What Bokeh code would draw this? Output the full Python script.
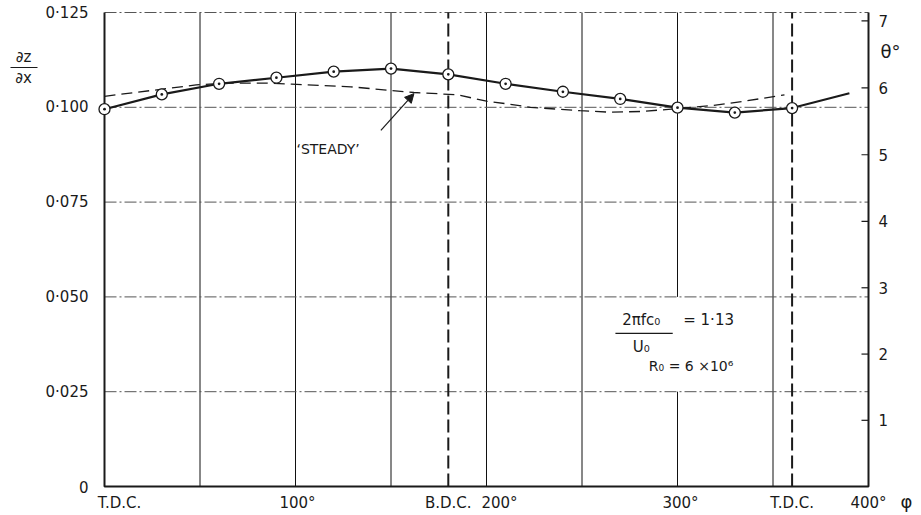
import numpy as np
from bokeh.plotting import figure
from bokeh.models import Range1d, Arrow, NormalHead
from bokeh.core.properties import value
from bokeh.embed import file_html
from bokeh.resources import INLINE

# ---------------- data ----------------
phi_points = [0, 30, 60, 90, 120, 150, 180, 210, 240, 270, 300, 330, 360]
slope_points = [0.0995, 0.1034, 0.1062, 0.1078, 0.1094, 0.1102, 0.1087,
                0.1062, 0.1041, 0.1022, 0.0999, 0.0986, 0.0998]
phi_curve_tail = [390]
slope_curve_tail = [0.1037]

phi_steady = [0, 48, 65, 85, 98, 129, 162, 185, 200, 211, 223, 249, 265, 281, 299, 319, 335, 356]
slope_steady = [0.1029, 0.1059, 0.1064, 0.1064, 0.1061, 0.1054, 0.1039, 0.1033, 0.1016,
                0.1009, 0.1000, 0.0991, 0.0987, 0.0989, 0.0996, 0.1005, 0.1016, 0.1033]

y_ticks = [0, 0.025, 0.05, 0.075, 0.1, 0.125]
y_tick_labels = ["0", "0·025", "0·050", "0·075", "0·100", "0·125"]
x_tick_phi = [0, 100, 180, 200, 300, 360, 400]
x_tick_labels = ["T.D.C.", "100°", "B.D.C.", "200°", "300°", "T.D.C.", "400°"]
grid_phi = [50, 100, 150, 200, 250, 300, 350]
grid_slope = [0.025, 0.05, 0.075, 0.1]
dead_centres = [180, 360]
theta_ticks = [1, 2, 3, 4, 5, 6, 7]
theta_labels = ["1", "2", "3", "4", "5", "6", "7"]

# ---------------- layout / style ----------------
FONT = value("DejaVu Sans")
INK = "#1a1a1a"
W, H = 919, 513
FRAME_L, FRAME_R, FRAME_T, FRAME_B = 104, 868, 12, 486   # where the plotting box sits (px)

x0, x1 = x_tick_phi[0], x_tick_phi[-1]
y0, y1 = y_ticks[0], y_ticks[-1]
sx = (FRAME_R - FRAME_L) / (x1 - x0)      # px per degree
sy = (FRAME_B - FRAME_T) / (y1 - y0)      # px per unit slope


def px_x(dpx):   # pixel distance -> data distance (x)
    return dpx / sx


def px_y(dpx):
    return dpx / sy


p = figure(width=W, height=H, output_backend="svg", toolbar_location=None,
           x_range=Range1d(x0 - px_x(FRAME_L), x1 + px_x(W - FRAME_R)),
           y_range=Range1d(y0 - px_y(H - FRAME_B), y1 + px_y(FRAME_T)),
           x_axis_location=None, y_axis_location=None, min_border=0)
p.outline_line_color = None
p.grid.visible = False
p.background_fill_color = "white"
p.border_fill_color = "white"

# vertical grid lines (the 300 deg line is broken where the parameter note sits)
gx0, gy0, gx1, gy1 = [], [], [], []
for g in grid_phi:
    if g == 300:
        gx0 += [g, g]; gx1 += [g, g]
        gy0 += [y0, grid_slope[1]]; gy1 += [grid_slope[0], y1]
    else:
        gx0.append(g); gx1.append(g); gy0.append(y0); gy1.append(y1)
p.segment(x0=gx0, y0=gy0, x1=gx1, y1=gy1, line_color="#111111", line_width=1)

# horizontal grid lines + top edge (dash-dot)
m = len(grid_slope)
p.segment(x0=[x0] * m, y0=grid_slope, x1=[x1] * m, y1=grid_slope,
          line_color="#555555", line_width=1, line_dash="12 3 2 3")
p.segment(x0=[x0], y0=[y1], x1=[x1], y1=[y1],
          line_color="#555555", line_width=1, line_dash="12 3 2 3")

# dead centre markers
k = len(dead_centres)
p.segment(x0=dead_centres, y0=[y0] * k, x1=dead_centres, y1=[y1] * k,
          line_color=INK, line_width=2, line_dash="13 5")

# box: left, bottom, right
p.line([x0, x0, x1, x1], [y1, y0, y0, y1], line_color=INK, line_width=2)

# right scale: theta in degrees, slope = tan(theta)
theta_pos = list(np.tan(np.radians(theta_ticks)))
t = len(theta_pos)
p.segment(x0=[x1 - px_x(7)] * t, y0=theta_pos, x1=[x1] * t, y1=theta_pos,
          line_color=INK, line_width=1.2)
p.text(x=[x1 + px_x(10)] * t, y=theta_pos, text=theta_labels, text_align="left",
       text_baseline="middle", text_font=FONT, text_font_size="15px", text_color=INK)

# left tick labels
p.text(x=[x0 - px_x(16)] * len(y_ticks), y=y_ticks, text=y_tick_labels, text_align="right",
       text_baseline="middle", text_font=FONT, text_font_size="15px", text_color=INK)

# bottom tick labels
p.text(x=x_tick_phi, y=[y0 - px_y(16)] * len(x_tick_phi), text=x_tick_labels,
       x_offset=[15, 2, 0, 13, 3, 0, 0], text_align="center", text_baseline="middle",
       text_font=FONT, text_font_size="15px", text_color=INK)

# axis symbols
p.text(x=[x1 + px_x(38)], y=[y0 - px_y(15)], text=["φ"], text_align="center",
       text_baseline="middle", text_font=FONT, text_font_size="18px", text_color=INK)
p.text(x=[x1 + px_x(22)], y=[y1 - px_y(39)], text=["θ°"], text_align="center",
       text_baseline="middle", text_font=FONT, text_font_size="18px", text_color=INK)
p.text(x=[x0 - px_x(81)] * 2, y=[y1 - px_y(44), y1 - px_y(65)], text=["∂z", "∂x"],
       text_align="center", text_baseline="middle", text_font=FONT,
       text_font_size="15px", text_color=INK)
p.segment(x0=[x0 - px_x(94)], y0=[y1 - px_y(55)], x1=[x0 - px_x(67)], y1=[y1 - px_y(55)],
          line_color=INK, line_width=1.2)

# curves
p.line(phi_steady, slope_steady, line_color=INK, line_width=1.3, line_dash="11 6")
p.line(phi_points + phi_curve_tail, slope_points + slope_curve_tail,
       line_color=INK, line_width=2.2)
p.scatter(phi_points, slope_points, marker="circle_dot", size=11,
          fill_color="white", line_color=INK, line_width=1.3)

# 'STEADY' annotation
p.text(x=[100.5], y=[0.0889], text=["‘STEADY’"], text_align="left", text_baseline="middle",
       text_font=FONT, text_font_size="14px", text_color=INK)
p.add_layout(Arrow(x_start=144.7, y_start=0.0939, x_end=162, y_end=0.1036,
                   line_color=INK, line_width=1.2,
                   end=NormalHead(size=9, fill_color=INK, line_color=INK)))

# parameter annotation
p.text(x=[281, 281], y=[0.0438, 0.0368], text=["2πfc₀", "U₀"], text_align="center",
       text_baseline="middle", text_font=FONT, text_font_size="15px", text_color=INK)
p.segment(x0=[267.5], y0=[0.0404], x1=[297.5], y1=[0.0404], line_color=INK, line_width=1.2)
p.text(x=[303], y=[0.0438], text=["= 1·13"], text_align="left", text_baseline="middle",
       text_font=FONT, text_font_size="15px", text_color=INK)
p.text(x=[285], y=[0.0319], text=["R₀  = 6 ×10⁶"], text_align="left", text_baseline="middle",
       text_font=FONT, text_font_size="14px", text_color=INK)

open("out.html", "w").write(file_html(p, INLINE))
